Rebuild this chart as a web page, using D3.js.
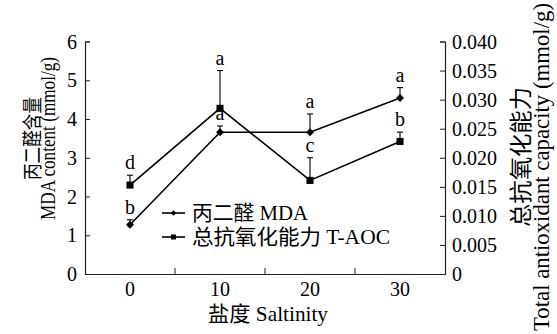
<!DOCTYPE html>
<html><head><meta charset="utf-8">
<script src="https://cdn.jsdelivr.net/npm/d3@7"></script>
<style>
body{margin:0;background:#fff;}
text{font-family:"Liberation Serif","Times New Roman","Noto Sans CJK SC",serif;fill:#000;}
</style></head>
<body><svg id="c" width="557" height="334"></svg>
<script>
const categories = ["0","10","20","30"];
const mdaValues = [1.27, 3.66, 3.66, 4.54];
const mdaErrors = [0.13, 0.16, 0.47, 0.27];
const mdaLetters = ["b","a","a","a"];
const taocValues = [0.0153, 0.0285, 0.0161, 0.0228];
const taocErrors = [0.0017, 0.0065, 0.0039, 0.0016];
const taocLetters = ["d","a","c","b"];
const leftTicks = [0,1,2,3,4,5,6];
const rightTicks = [0,0.005,0.010,0.015,0.020,0.025,0.030,0.035,0.040];
const rightTickLabels = ["0","0.005","0.010","0.015","0.020","0.025","0.030","0.035","0.040"];
const seriesNames = ["丙二醛 MDA","总抗氧化能力 T-AOC"];

const svg = d3.select("#c");
const L = 85, R = 445, T = 41.5, B = 274;
const x = d3.scaleBand().domain(categories).range([L, R]);
const yL = d3.scaleLinear().domain([0, 6]).range([B, T]);
const yR = d3.scaleLinear().domain([0, 0.04]).range([B, T]);
const cx = c => x(c) + x.bandwidth() / 2;

// axes
const axisColor = "#222";
const gL = svg.append("g").attr("transform", `translate(${L},0)`)
  .call(d3.axisRight(yL).tickValues(leftTicks).tickSize(5).tickFormat(""));
const gR = svg.append("g").attr("transform", `translate(${R},0)`)
  .call(d3.axisLeft(yR).tickValues(rightTicks).tickSize(5).tickFormat(""));
const gB = svg.append("g").attr("transform", `translate(0,${B})`)
  .call(d3.axisTop(x).tickSize(0).tickFormat(""));
[gL, gR, gB].forEach(g => { g.selectAll("path,line").attr("stroke", axisColor).attr("stroke-width", 1); g.select(".domain").attr("stroke-width", 1.2); });
// bottom boundary ticks
svg.append("g").selectAll("line").data(categories.slice(1)).join("line")
  .attr("x1", c => x(c)).attr("x2", c => x(c)).attr("y1", B).attr("y2", B - 6)
  .attr("stroke", axisColor).attr("stroke-width", 1);

// tick labels
svg.append("g").selectAll("text").data(leftTicks).join("text")
  .attr("x", L - 8).attr("y", d => yL(d) + 7).attr("text-anchor", "end")
  .attr("font-size", 20).text(d => d);
svg.append("g").selectAll("text").data(rightTicks).join("text")
  .attr("x", R + 7).attr("y", d => yR(d) + 7).attr("text-anchor", "start")
  .attr("font-size", 20).text((d, i) => rightTickLabels[i]);
svg.append("g").selectAll("text").data(categories).join("text")
  .attr("x", c => cx(c)).attr("y", B + 22).attr("text-anchor", "middle")
  .attr("font-size", 20).text(d => d);

// axis titles
function title(tf, size, len, txt) {
  svg.append("g").attr("transform", tf).append("text").attr("text-anchor", "middle")
    .style("font-size", size + "px").attr("textLength", len).attr("lengthAdjust", "spacingAndGlyphs")
    .text(txt);
}
title("translate(268,321)", 21, 120, "盐度 Saltinity");
title("translate(40,138.5) rotate(-90)", 20, 83, "丙二醛含量");
title("translate(55,138.5) rotate(-90)", 20, 163, "MDA content (mmol/g)");
title("translate(529,157) rotate(-90)", 22.5, 140, "总抗氧化能力");
title("translate(549,167) rotate(-90)", 22.5, 328, "Total antioxidant capacity (mmol/g)");

// series
const mda = categories.map((c, i) => ({c, v: mdaValues[i], e: mdaErrors[i], l: mdaLetters[i]}));
const taoc = categories.map((c, i) => ({c, v: taocValues[i], e: taocErrors[i], l: taocLetters[i]}));

function drawSeries(data, y, marker) {
  const g = svg.append("g");
  g.append("path").datum(data)
    .attr("d", d3.line().x(d => cx(d.c)).y(d => y(d.v)))
    .attr("fill", "none").attr("stroke", "#000").attr("stroke-width", 1.6);
  g.selectAll(".eb").data(data).join("line")
    .attr("x1", d => cx(d.c)).attr("x2", d => cx(d.c))
    .attr("y1", d => y(d.v)).attr("y2", d => y(d.v + d.e))
    .attr("stroke", "#000").attr("stroke-width", 1.1);
  g.selectAll(".cap").data(data).join("line")
    .attr("x1", d => cx(d.c) - 3).attr("x2", d => cx(d.c) + 3)
    .attr("y1", d => y(d.v + d.e)).attr("y2", d => y(d.v + d.e))
    .attr("stroke", "#000").attr("stroke-width", 1.1);
  g.selectAll(".mk").data(data).join("path")
    .attr("transform", d => `translate(${cx(d.c)},${y(d.v)})`)
    .attr("d", marker).attr("fill", "#000");
  g.selectAll(".lt").data(data).join("text")
    .attr("x", d => cx(d.c)).attr("y", d => y(d.v + d.e) - 6)
    .attr("text-anchor", "middle").attr("font-size", 20).text(d => d.l);
}
const diamond = d3.symbol().type(d3.symbolDiamond2).size(40)();
const square = d3.symbol().type(d3.symbolSquare).size(50)();
drawSeries(taoc, yR, square);
drawSeries(mda, yL, diamond);

// legend
const legY = [213, 237];
const legLen = [116, 198];
const legMarkers = [d3.symbol().type(d3.symbolDiamond2).size(20)(), d3.symbol().type(d3.symbolSquare).size(25)()];
const lg = svg.append("g");
seriesNames.forEach((n, i) => {
  lg.append("line").attr("x1", 162).attr("x2", 185).attr("y1", legY[i]).attr("y2", legY[i])
    .attr("stroke", "#000").attr("stroke-width", 1.6);
  lg.append("path").attr("transform", `translate(173.5,${legY[i]})`).attr("d", legMarkers[i]).attr("fill", "#000");
  lg.append("text").attr("x", 192).attr("y", legY[i] + 7).attr("font-size", 21)
    .attr("textLength", legLen[i]).attr("lengthAdjust", "spacingAndGlyphs").text(n);
});
</script></body></html>
